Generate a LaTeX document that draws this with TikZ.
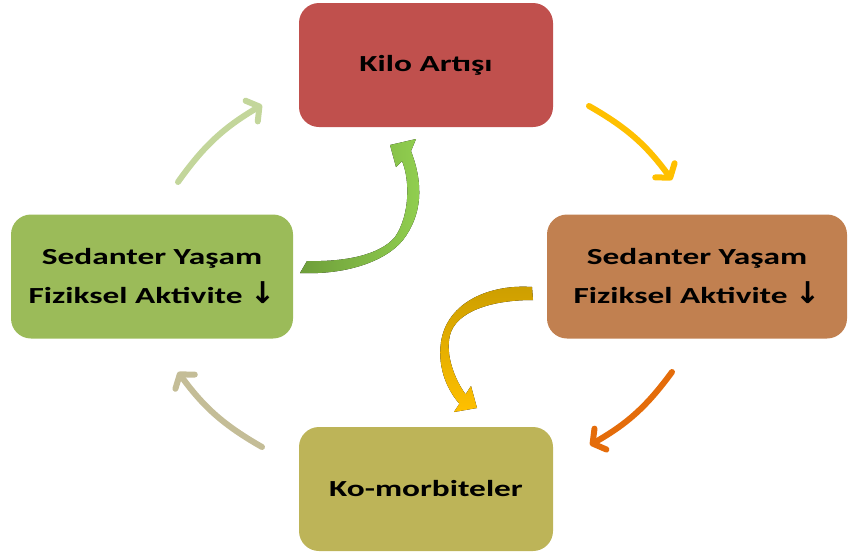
\documentclass[tikz,border=0pt]{standalone}
\usepackage{fontspec}
\setmainfont{Carlito}
\newfontfamily\boxfont[FakeStretch=1.45]{Carlito}
\newfontfamily\arrowfont{DejaVu Sans}
\newcommand{\downarr}{{\arrowfont\fontsize{30}{39}\selectfont ↓}}
\usetikzlibrary{arrows.meta}
\definecolor{boxred}{HTML}{C0504D}
\definecolor{boxbrown}{HTML}{C18050}
\definecolor{boxgreen}{HTML}{9BBB59}
\definecolor{boxolive}{HTML}{BDB458}
\definecolor{arryellow}{HTML}{FFC000}
\definecolor{arrorange}{HTML}{E46C0A}
\definecolor{arrtan}{HTML}{C4BD97}
\definecolor{arrlgreen}{HTML}{C3D69B}
\definecolor{gdark}{HTML}{6E9E3A}
\definecolor{glight}{HTML}{92D050}
\definecolor{golddark}{HTML}{CC9E00}
\definecolor{goldlight}{HTML}{FFC000}
\begin{document}
\begin{tikzpicture}[x=1pt,y=-1pt,
  box/.style={rounded corners=20pt, inner sep=0pt, align=center,
    minimum height=124pt, font=\boxfont\bfseries\fontsize{23}{39}\selectfont},
  thinarrow/.style={line width=6pt, line cap=round,
    -{Straight Barb[length=9pt,width=24pt,line cap=round,line join=round]}}]
\useasboundingbox (0,0) rectangle (848,557);

% boxes
\node[box, fill=boxred, minimum width=254pt] (kilo) at (426,65) {Kilo Artışı};
\node[box, fill=boxbrown, minimum width=300pt] (sedR) at (697,276.5)
  {Sedanter Yaşam\\Fiziksel Aktivite \downarr};
\node[box, fill=boxgreen, minimum width=282pt] (sedL) at (152,276.5)
  {Sedanter Yaşam\\Fiziksel Aktivite \downarr};
\node[box, fill=boxolive, minimum width=254pt] (komo) at (426,489) {Ko-morbiteler};

% thin cycle arrows
\coordinate (ya) at (589,106);  \coordinate (yb) at (672,180);
\coordinate (oa) at (672,372);  \coordinate (ob) at (590,445);
\coordinate (ta) at (262,447);  \coordinate (tb) at (178,372);
\coordinate (la) at (178,182);  \coordinate (lb) at (262,105);
\draw[thinarrow, arryellow] (ya) to[bend left=12] (yb);
\draw[thinarrow, arrorange] (oa) to[bend left=12] (ob);
\draw[thinarrow, arrtan] (ta) to[bend left=12] (tb);
\draw[thinarrow, arrlgreen] (la) to[bend left=12] (lb);

% big green curved arrow (left box -> top box)
\fill[left color=gdark, right color=glight]
  (300,273) .. controls (345,275) and (385,262) .. (403,240)
  .. controls (422,215) and (424,185) .. (411,151)
  -- (416,139) -- (390,145) -- (396,167) -- (402,161)
  .. controls (410,180) and (410,215) .. (395,237)
  .. controls (380,255) and (345,262) .. (307,261) -- cycle;

% big gold curved arrow (right box -> bottom box)
\fill[top color=golddark, bottom color=goldlight]
  (532,287) .. controls (490,284) and (447,302) .. (441,342)
  .. controls (437,370) and (449,392) .. (459.4,403.7)
  -- (454,412) -- (477,408) -- (471,386) -- (465.6,394.3)
  .. controls (455,380) and (445,355) .. (450,335)
  .. controls (456,312) and (490,300) .. (533,300) -- cycle;
\end{tikzpicture}
\end{document}
